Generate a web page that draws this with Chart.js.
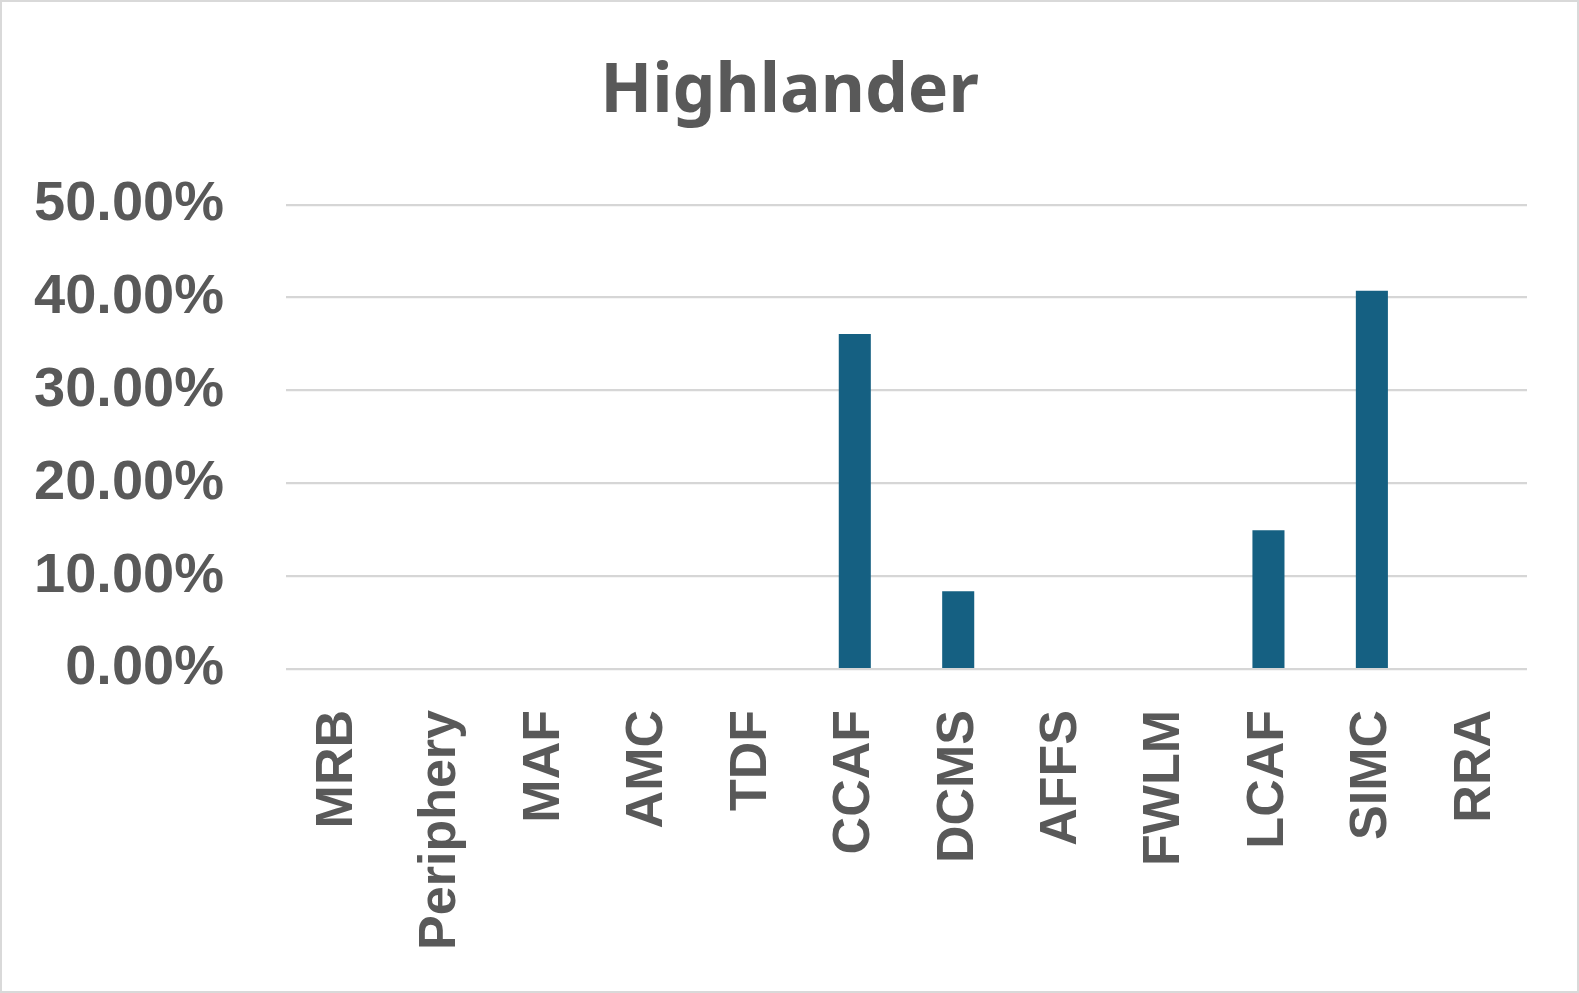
<!DOCTYPE html>
<html>
<head>
<meta charset="utf-8">
<script src="https://cdn.jsdelivr.net/npm/chart.js@4"></script>
<style>
  html, body { margin: 0; padding: 0; background: #fff; }
  #wrap { width: 1579px; height: 993px; box-sizing: border-box; border: 2px solid #d9d9d9; position: relative; }
</style>
</head>
<body>
<div id="wrap"><canvas id="highlander_chart"></canvas></div>
<script>
var categories = ["MRB", "Periphery", "MAF", "AMC", "TDF", "CCAF", "DCMS", "AFFS", "FWLM", "LCAF", "SIMC", "RRA"];
var shares = [0, 0, 0, 0, 0, 0.3608, 0.0838, 0, 0, 0.1495, 0.4073, 0];
var yTicks = [0, 0.1, 0.2, 0.3, 0.4, 0.5];

var grey = "#595959";

// title is centred on the whole canvas, not the padded box
var centreTitle = {
    id: "centreTitle",
    afterLayout: function (chart) {
        var t = chart.titleBlock;
        if (t) { t.left = 0; t.right = chart.width; t.width = chart.width; }
    }
};

new Chart(document.getElementById("highlander_chart"), {
    type: "bar",
    data: {
        labels: categories,
        datasets: [
            {
                label: "Highlander",
                data: shares,
                backgroundColor: "#156082",
                barPercentage: 0.31,
                categoryPercentage: 1
            }
        ]
    },
    plugins: [centreTitle],
    options: {
        responsive: true,
        maintainAspectRatio: false,
        animation: false,
        layout: { padding: { left: 24, right: 50, top: 0, bottom: 0 } },
        plugins: {
            legend: { display: false },
            tooltip: { enabled: false },
            title: {
                display: true,
                text: "Highlander",
                color: grey,
                font: { family: "'Noto Sans', 'Open Sans', sans-serif", size: 68, weight: "bold" },
                padding: { top: 50, bottom: 71 }
            }
        },
        scales: {
            x: {
                grid: { display: false },
                border: { display: false },
                ticks: {
                    color: grey,
                    font: { family: "'Liberation Sans', Arial, sans-serif", size: 52, weight: "bold" },
                    minRotation: 90,
                    maxRotation: 90,
                    padding: 33,
                    autoSkip: false
                },
                afterFit: function (scale) { scale.height = 322; }
            },
            y: {
                min: 0,
                max: 0.5,
                afterBuildTicks: function (scale) {
                    scale.ticks = yTicks.map(function (v) { return { value: v }; });
                },
                grid: { color: "#d6d6d6", lineWidth: 2.2, drawTicks: false },
                border: { display: false },
                ticks: {
                    color: grey,
                    font: { family: "'Liberation Sans', Arial, sans-serif", size: 56, weight: "bold" },
                    padding: 62,
                    callback: function (v) { return (v * 100).toFixed(2) + "%"; }
                },
                afterFit: function (scale) { scale.width = 260; }
            }
        }
    }
});
</script>
</body>
</html>
